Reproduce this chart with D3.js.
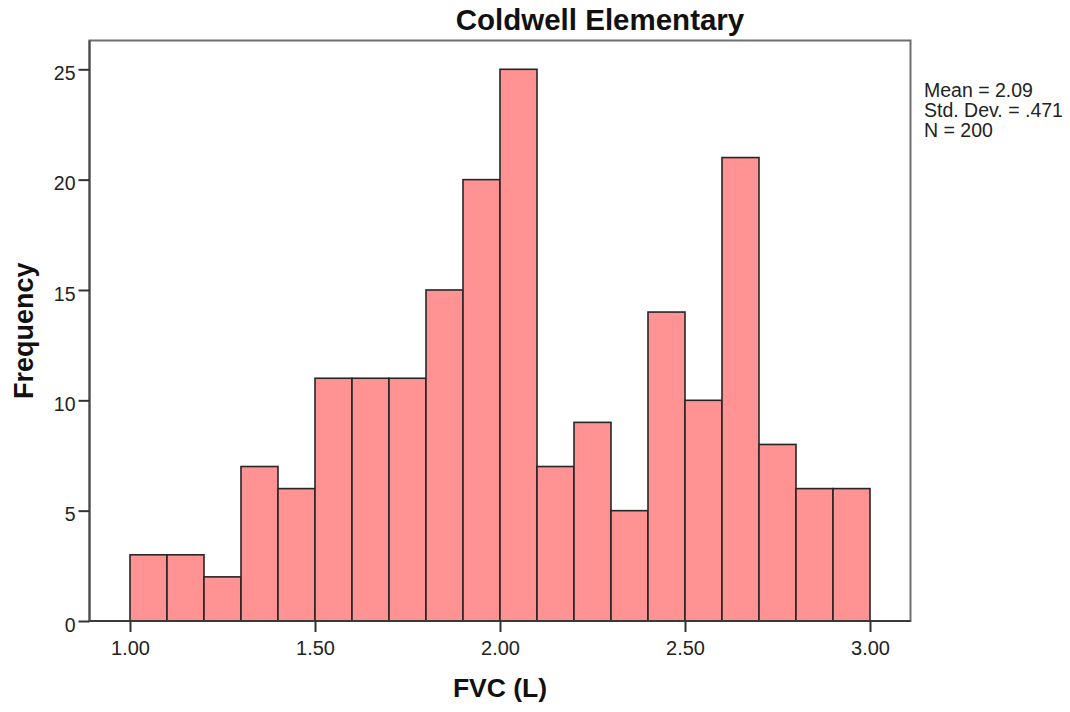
<!DOCTYPE html>
<html>
<head>
<meta charset="utf-8">
<script src="https://cdn.jsdelivr.net/npm/d3@7"></script>
<style>
  html, body { margin: 0; padding: 0; background: #fff; }
  svg { display: block; font-family: "Liberation Sans", Arial, sans-serif; }
</style>
</head>
<body>
<svg id="chart" width="1070" height="712"></svg>
<script>
// Data
const binStarts = [1.0, 1.1, 1.2, 1.3, 1.4, 1.5, 1.6, 1.7, 1.8, 1.9, 2.0, 2.1, 2.2, 2.3, 2.4, 2.5, 2.6, 2.7, 2.8, 2.9];
const frequencies = [3, 3, 2, 7, 6, 11, 11, 11, 15, 20, 25, 7, 9, 5, 14, 10, 21, 8, 6, 6];
const binWidth = 0.1;
const xTickValues = [1.0, 1.5, 2.0, 2.5, 3.0];
const yTickValues = [0, 5, 10, 15, 20, 25];
const statsLines = ["Mean = 2.09", "Std. Dev. = .471", "N = 200"];
const titleText = "Coldwell Elementary";
const xTitle = "FVC (L)";
const yTitle = "Frequency";

const svg = d3.select("#chart");
const plot = { left: 89.5, right: 910.5, top: 40.5, bottom: 621 };

const x = d3.scaleLinear().domain([1.0, 3.0]).range([130, 870]);
const y = d3.scaleLinear().domain([0, 25]).range([plot.bottom, 69.3]);

// Frame
svg.append("rect")
  .attr("x", plot.left).attr("y", plot.top)
  .attr("width", plot.right - plot.left).attr("height", plot.bottom - plot.top)
  .attr("fill", "none").attr("stroke", "#6e6e6e").attr("stroke-width", 2);

// Bars
const bars = binStarts.map((s, i) => ({ x0: s, x1: s + binWidth, v: frequencies[i] }));
svg.append("g").selectAll("rect").data(bars).join("rect")
  .attr("x", d => x(d.x0))
  .attr("y", d => y(d.v))
  .attr("width", d => x(d.x1) - x(d.x0))
  .attr("height", d => y(0) - y(d.v))
  .attr("fill", "#ff9393")
  .attr("stroke", "#262626")
  .attr("stroke-width", 1.6);

// Axis lines
svg.append("line").attr("x1", plot.left).attr("x2", plot.right)
  .attr("y1", plot.bottom).attr("y2", plot.bottom)
  .attr("stroke", "#3a3a3a").attr("stroke-width", 2);
svg.append("line").attr("x1", plot.left).attr("x2", plot.left)
  .attr("y1", plot.top).attr("y2", plot.bottom)
  .attr("stroke", "#4a4a4a").attr("stroke-width", 2);

// X axis
const xAxis = d3.axisBottom(x).tickValues(xTickValues).tickFormat(d3.format(".2f"))
  .tickSize(11).tickPadding(9);
const gx = svg.append("g").attr("transform", `translate(0,${plot.bottom})`).call(xAxis);
gx.select(".domain").remove();
gx.selectAll(".tick line").attr("stroke", "#333").attr("stroke-width", 2);
gx.selectAll(".tick text").attr("fill", "#222").attr("font-size", 20)
  .attr("font-family", "Liberation Sans, Arial, sans-serif");

// Y axis
const yAxis = d3.axisLeft(y).tickValues(yTickValues).tickSize(11).tickPadding(3);
const gy = svg.append("g").attr("transform", `translate(${plot.left},0)`).call(yAxis);
gy.select(".domain").remove();
gy.selectAll(".tick line").attr("stroke", "#333").attr("stroke-width", 2);
gy.selectAll(".tick text").attr("fill", "#222").attr("font-size", 19.5)
  .attr("dy", "0.52em")
  .attr("font-family", "Liberation Sans, Arial, sans-serif");

// Title
svg.append("text").attr("x", 600).attr("y", 30)
  .attr("text-anchor", "middle").attr("font-size", 29.5).attr("font-weight", "bold")
  .attr("fill", "#111").text(titleText);

// X title
svg.append("text").attr("x", (x(1) + x(3)) / 2).attr("y", 697)
  .attr("text-anchor", "middle").attr("font-size", 26.5).attr("font-weight", "bold")
  .attr("fill", "#111").text(xTitle);

// Y title
svg.append("text")
  .attr("transform", `translate(33,${(plot.top + plot.bottom) / 2}) rotate(-90)`)
  .attr("text-anchor", "middle").attr("font-size", 27).attr("font-weight", "bold")
  .attr("fill", "#111").text(yTitle);

// Stats
svg.append("g").selectAll("text").data(statsLines).join("text")
  .attr("x", 924).attr("y", (d, i) => 96.5 + i * 20)
  .attr("font-size", 19.5).attr("fill", "#222")
  .text(d => d);
</script>
</body>
</html>
